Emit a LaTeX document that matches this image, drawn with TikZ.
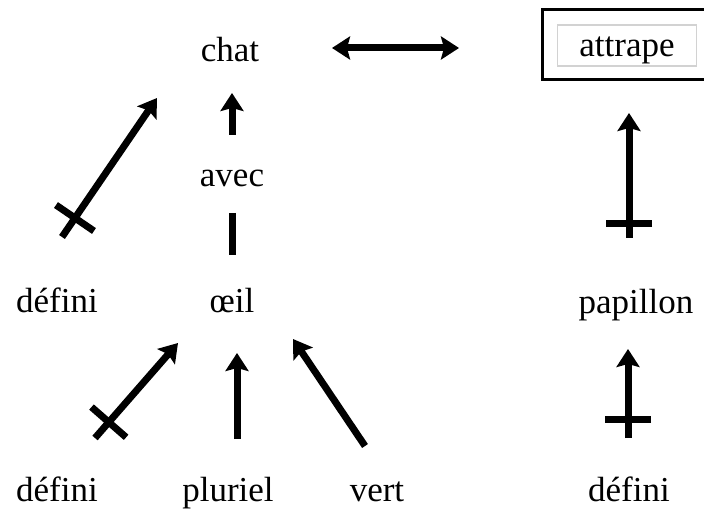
\documentclass[tikz,border=0pt]{standalone}
\usepackage{fontspec}
\setmainfont{Liberation Serif}
\usepackage{tikz}
\usetikzlibrary{arrows.meta,positioning,decorations.markings}

\begin{document}
\begin{tikzpicture}[
  x=0.5pt, y=-0.5pt,
  >={Stealth[length=9pt, width=11.5pt, inset=1.5pt]},
  mot/.style={anchor=base, inner sep=0pt, font=\fontsize{17.5}{20}\selectfont},
  arr/.style={->, line width=3.5pt},
  lien/.style={line width=3.5pt},
  barre/.style={postaction={decorate}, decoration={markings,
    mark=at position #1 with {\draw[-, line width=3.5pt] (0,-11.5pt) -- (0,11.5pt);}}}
]
\useasboundingbox (0,0) rectangle (704,512);

% mots
\node[mot] (chat)     at (230,62)  {chat};
\node[mot] (avec)     at (232,187) {avec};
\node[mot] (oeil)     at (232,312) {œil};
\node[mot] (defA)     at (57,313)  {défini};
\node[mot] (defB)     at (57,501)  {défini};
\node[mot] (pluriel)  at (228,501) {pluriel};
\node[mot] (vert)     at (377,501) {vert};
\node[mot] (papillon) at (636,314) {papillon};
\node[mot] (defC)     at (629,501) {défini};
\node[draw, line width=1.5pt, minimum width=89pt, minimum height=35pt] (cadre) at (631,45) {};
\node[mot, draw=gray!35, line width=0.6pt, minimum width=69.5pt,
  text height=16pt, text depth=4.5pt] (attrape) at (627,57) {attrape};

% liens
\draw[<->, line width=3.5pt] ([shift={(102,-14)}]chat.base) -- ([shift={(-172,3)}]cadre.center);
\draw[arr] ([shift={(0,-52)}]avec.base) -- ([shift={(2,31)}]chat.base);
\draw[lien] ([shift={(0,26)}]avec.base) -- ([shift={(0,-57)}]oeil.base);
\draw[arr, barre=11.5pt] ([shift={(5,-76)}]defA.base) -- ([shift={(-73,36)}]chat.base);
\draw[arr, barre=10.5pt] ([shift={(38,-63)}]defB.base) -- ([shift={(-54,31)}]oeil.base);
\draw[arr] ([shift={(9,-62)}]pluriel.base) -- ([shift={(5,41)}]oeil.base);
\draw[arr] ([shift={(-12,-55)}]vert.base) -- ([shift={(61,27)}]oeil.base);
\draw[arr, barre=7pt] ([shift={(-7,-76)}]papillon.base) -- ([shift={(-2,68)}]cadre.center);
\draw[arr, barre=9.5pt] ([shift={(-1,-63)}]defC.base) -- ([shift={(-8,35)}]papillon.base);
\end{tikzpicture}
\end{document}
